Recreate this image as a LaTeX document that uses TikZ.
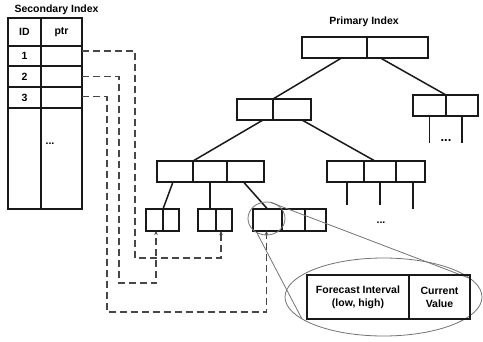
\documentclass[tikz,border=0pt]{standalone}
\usepackage{fontspec}
\setmainfont{Liberation Sans}
\usetikzlibrary{arrows.meta,shapes.geometric}

\begin{document}
\begin{tikzpicture}[x=1pt, y=-1pt]

    % Stijlen voor cellen, boomlijnen, pointers en de vergroting
    \tikzset{
        cell/.style={draw=black!90, line width=1.5pt, anchor=north west, inner sep=0pt, outer sep=0pt,
                     font=\bfseries\fontsize{10.5}{13}\selectfont},
        title/.style={font=\bfseries\fontsize{10.5}{13}\selectfont},
        dots/.style={font=\bfseries\fontsize{10.5}{13}\selectfont, inner sep=0pt},
        treeline/.style={black!90, line width=1.5pt},
        ptrline/.style={black!72, line width=1.8pt, dash pattern=on 7pt off 4pt,
                        -{Stealth[length=4pt, width=3.5pt]}},
        zoomring/.style={ellipse, draw=black!55, line width=0.8pt, inner sep=0pt, outer sep=0pt},
        lensline/.style={black!55, line width=0.8pt}
    }

    \useasboundingbox (0,0) rectangle (483,341);

    % --- TITELS ---
    \node[title, anchor=base west] (sectitle) at (11,12) {Secondary Index};
    \node[title, anchor=base] (primtitle) at (364,24) {Primary Index};

    % --- SECONDARY INDEX TABEL ---
    \node[cell, minimum width=33pt, minimum height=28pt] (idh) at (8,18) {ID};
    \node[cell, minimum width=41pt, minimum height=28pt] (ptrh) at (41,18) {ptr};
    \foreach \i/\y/\h in {1/46/20, 2/66/21, 3/87/21} {
        \node[cell, minimum width=33pt, minimum height=\h*1pt] (id\i) at (8,\y) {\i};
        \node[cell, minimum width=41pt, minimum height=\h*1pt] (ptr\i) at (41,\y) {};
    }
    \node[cell, minimum width=33pt, minimum height=101pt] (idrest) at (8,108) {};
    \node[cell, minimum width=41pt, minimum height=101pt] (ptrrest) at (41,108) {};
    \node[dots] (secdots) at (50,144) {...};

    % --- PRIMARY INDEX (B-BOOM) ---
    % Elke cel is een eigen node: naam/x/y/breedte/hoogte
    \foreach \n/\x/\y/\w/\h in {r1/302/37/65/21, r2/367/37/61/21,
                                a1/237/99/36/21, a2/273/99/38/21,
                                b1/413/95/33/21, b2/446/95/32/21,
                                c1/157/161/36/21, c2/193/161/34/21, c3/227/161/37/21,
                                d1/327/161/37/21, d2/364/161/32/21, d3/396/161/29/21,
                                e1/146/209/17/22, e2/163/209/16/22,
                                f1/198/209/18/22, f2/216/209/16/22,
                                g1/253/209/29/22, g2/282/209/23/22, g3/305/209/21/22} {
        \node[cell, minimum width=\w*1pt, minimum height=\h*1pt] (\n) at (\x,\y) {};
    }

    % Takken van de boom
    \draw[treeline] ([xshift=7pt]r1.south) -- (a1.north east);
    \draw[treeline] ([xshift=-17pt]r2.south) -- (b1.north east);
    \draw[treeline] ([xshift=8pt]a1.south) -- (c1.north east);
    \draw[treeline] ([xshift=10pt]a2.south) -- ([xshift=-5pt]d2.north);
    \draw[treeline] ([xshift=-2pt]c1.south) -- (e1.north east);
    \draw[treeline] (c2.south) -- (c2.south |- f1.north);
    \draw[treeline] ([xshift=-2pt]c3.south) -- (g1.north);

    % Open takken met puntjes
    \foreach \n/\s/\l in {d1/1.5/23, d2/0/23, d3/2.5/27} {
        \draw[treeline] ([xshift=\s pt]\n.south) -- ++(0,\l);
    }
    \foreach \n in {b1, b2} {
        \draw[treeline] (\n.south) -- ++(0,27);
    }
    \node[dots, font=\bfseries\fontsize{13}{15}\selectfont] (bdots) at (446,141) {...};
    \node[dots] (ddots) at (381,223) {...};

    % --- POINTERS VAN SECONDARY NAAR PRIMARY ---
    \draw[ptrline] ([yshift=5pt]ptr1.east) -| (135,258) -| ([xshift=5pt]f2.south west);
    \draw[ptrline] (ptr2.east) -| (119,283) -| ([xshift=10pt]e1.south west);
    \draw[ptrline] ([yshift=1pt]ptr3.east) -| (107,312) -| ([xshift=-1pt]g1.south);

    % --- VERGROTING VAN EEN ENTRY ---
    \node[zoomring, minimum width=37pt, minimum height=33pt] (lens) at (266.5,218.5) {};
    \node[zoomring, minimum width=197pt, minimum height=78pt] (detail) at (383.5,297) {};
    \draw[lensline] (lens.75) -- (detail.12);
    \draw[lensline] (lens.235) -- (detail.195);

    \node[cell, minimum width=102pt, minimum height=44pt, align=center] (interval) at (307,275)
        {Forecast Interval\\(low, high)};
    \node[cell, minimum width=61pt, minimum height=44pt, align=center] (current) at (409,275)
        {Current\\Value};

\end{tikzpicture}
\end{document}
